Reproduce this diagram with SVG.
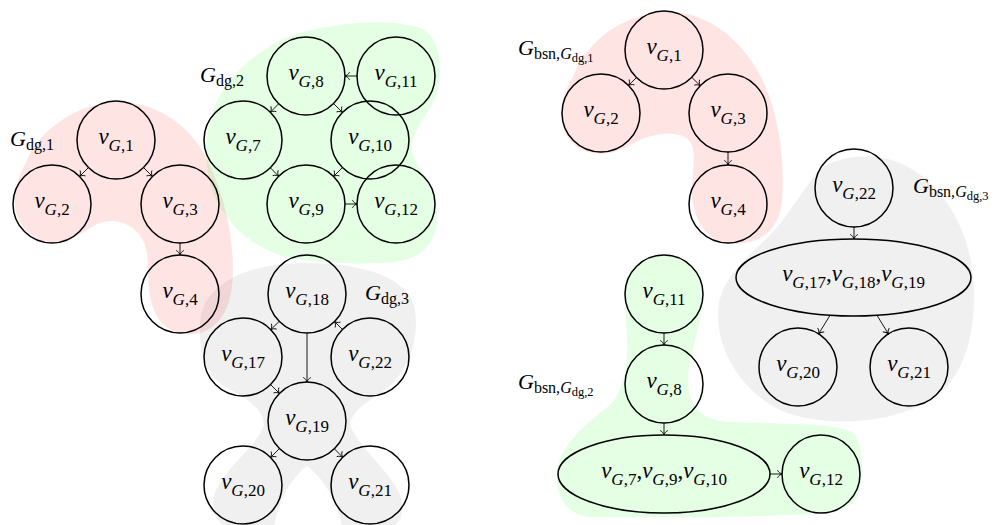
<svg xmlns="http://www.w3.org/2000/svg" width="996" height="525" viewBox="0 0 996 525">
<style>
text{font-family:"Liberation Serif","Times New Roman",serif;font-size:23px;fill:#000}
.n{text-anchor:middle}
.it{font-style:italic}
.s{font-size:17px}
.ss{font-size:12.5px}
.gl{font-size:22px}
.gs{font-size:16px}
circle,ellipse{fill:none;stroke:#000;stroke-width:1.5}
.e line{stroke:#000;stroke-width:0.9;marker-end:url(#ar)}
.pk{fill:#ff0000;fill-opacity:.105}
.gr{fill:#00ff00;fill-opacity:.105}
.gy{fill:#000;fill-opacity:.058}
</style>
<defs>
<marker id="ar" viewBox="-6 -5 7 10" markerWidth="7" markerHeight="10" refX="0" refY="0" orient="auto" markerUnits="userSpaceOnUse">
<path d="M-4.5,-3.8 C-3.5,-1.5 -1,-0.3 0,0 C-1,0.3 -3.5,1.5 -4.5,3.8" fill="none" stroke="#000" stroke-width="0.9"/>
</marker>
</defs>

<g id="blobs">
<path class="pk" d="M27,160 C40,130 75,105 113,102 C160,100 195,130 210,165 C225,200 233,235 233,270 C233,300 225,325 200,333 C180,338 160,330 152,305 C146,285 150,260 145,245 C138,225 115,215 95,225 C80,235 65,243 50,242 C25,240 12,215 15,195 C17,180 22,170 27,160 Z"/>
<path class="gr" d="M210,120 C220,80 260,45 300,33 C340,22 390,18 420,28 C440,36 443,65 438,90 C433,110 415,125 412,145 C410,165 435,180 437,210 C439,240 425,258 395,262 C360,265 320,263 290,258 C255,250 225,225 212,190 C204,165 205,140 210,120 Z"/>
<path class="gy" d="M200,322 C203,285 245,263 305,263 C365,263 410,278 415,310 C420,345 405,375 385,390 C368,402 352,410 350,425 C360,450 390,470 400,495 C406,512 400,525 392,525 L342,525 C336,500 325,480 307,466 C289,480 280,500 274,525 L224,525 C214,520 210,505 216,490 C228,465 258,445 264,425 C262,405 240,395 222,385 C205,372 198,350 200,322 Z"/>
<path class="pk" d="M573,77 C585,45 615,18 660,12 C705,8 745,40 765,85 C780,120 785,165 782,200 C780,230 760,245 730,244 C705,242 690,215 692,185 C694,158 698,140 680,135 C655,130 640,140 620,150 C595,160 565,150 562,120 C561,100 566,88 573,77 Z"/>
<path class="gy" d="M820,170 C835,155 875,152 900,163 C940,180 968,225 973,275 C978,330 965,380 930,400 C890,425 820,428 780,410 C740,390 718,350 718,315 C718,280 745,260 770,235 C790,215 805,185 820,170 Z"/>
<path class="gr" d="M625,300 C622,270 640,255 664,255 C690,255 705,275 702,305 C700,330 690,350 688,380 C688,405 700,420 730,422 C780,424 830,422 852,432 C865,442 863,480 858,495 C852,510 830,514 790,515 C720,518 640,518 590,517 C565,515 555,495 557,470 C560,445 590,420 610,405 C625,390 628,360 627,340 C626,325 626,310 625,300 Z"/>
</g>

<g id="labels">
<text x="10" y="146" class="gl"><tspan class="it">G</tspan><tspan dy="3.5" class="gs">dg,1</tspan></text>
<text x="200" y="82" class="gl"><tspan class="it">G</tspan><tspan dy="3.5" class="gs">dg,2</tspan></text>
<text x="365" y="300" class="gl"><tspan class="it">G</tspan><tspan dy="3.5" class="gs">dg,3</tspan></text>
<text x="518" y="55" class="gl"><tspan class="it">G</tspan><tspan dy="3.5" class="gs">bsn,<tspan class="it">G</tspan><tspan dy="3" class="ss">dg,1</tspan></tspan></text>
<text x="518" y="389" class="gl"><tspan class="it">G</tspan><tspan dy="3.5" class="gs">bsn,<tspan class="it">G</tspan><tspan dy="3" class="ss">dg,2</tspan></tspan></text>
<text x="913" y="193" class="gl"><tspan class="it">G</tspan><tspan dy="3.5" class="gs">bsn,<tspan class="it">G</tspan><tspan dy="3" class="ss">dg,3</tspan></tspan></text>
</g>

<g id="L1"><circle cx="116" cy="140" r="39"/><text class="n" x="116" y="143.5"><tspan class="it">v</tspan><tspan dy="7" class="s"><tspan class="it">G</tspan>,1</tspan></text></g>
<g id="L2"><circle cx="52" cy="204" r="39"/><text class="n" x="52" y="207.5"><tspan class="it">v</tspan><tspan dy="7" class="s"><tspan class="it">G</tspan>,2</tspan></text></g>
<g id="L3"><circle cx="180" cy="204" r="39"/><text class="n" x="180" y="207.5"><tspan class="it">v</tspan><tspan dy="7" class="s"><tspan class="it">G</tspan>,3</tspan></text></g>
<g id="L4"><circle cx="180" cy="294" r="39"/><text class="n" x="180" y="297.5"><tspan class="it">v</tspan><tspan dy="7" class="s"><tspan class="it">G</tspan>,4</tspan></text></g>

<g id="L8"><circle cx="306" cy="76" r="39"/><text class="n" x="306" y="79.5"><tspan class="it">v</tspan><tspan dy="7" class="s"><tspan class="it">G</tspan>,8</tspan></text></g>
<g id="L11"><circle cx="396" cy="76" r="39"/><text class="n" x="396" y="79.5"><tspan class="it">v</tspan><tspan dy="7" class="s"><tspan class="it">G</tspan>,11</tspan></text></g>
<g id="L7"><circle cx="243" cy="140" r="39"/><text class="n" x="243" y="143.5"><tspan class="it">v</tspan><tspan dy="7" class="s"><tspan class="it">G</tspan>,7</tspan></text></g>
<g id="L10"><circle cx="370" cy="140" r="39"/><text class="n" x="370" y="143.5"><tspan class="it">v</tspan><tspan dy="7" class="s"><tspan class="it">G</tspan>,10</tspan></text></g>
<g id="L9"><circle cx="306" cy="204" r="39"/><text class="n" x="306" y="207.5"><tspan class="it">v</tspan><tspan dy="7" class="s"><tspan class="it">G</tspan>,9</tspan></text></g>
<g id="L12"><circle cx="396" cy="204" r="39"/><text class="n" x="396" y="207.5"><tspan class="it">v</tspan><tspan dy="7" class="s"><tspan class="it">G</tspan>,12</tspan></text></g>

<g id="L18"><circle cx="307" cy="294" r="39"/><text class="n" x="307" y="297.5"><tspan class="it">v</tspan><tspan dy="7" class="s"><tspan class="it">G</tspan>,18</tspan></text></g>
<g id="L17"><circle cx="243" cy="357" r="39"/><text class="n" x="243" y="360.5"><tspan class="it">v</tspan><tspan dy="7" class="s"><tspan class="it">G</tspan>,17</tspan></text></g>
<g id="L22"><circle cx="370" cy="357" r="39"/><text class="n" x="370" y="360.5"><tspan class="it">v</tspan><tspan dy="7" class="s"><tspan class="it">G</tspan>,22</tspan></text></g>
<g id="L19"><circle cx="307" cy="421" r="39"/><text class="n" x="307" y="424.5"><tspan class="it">v</tspan><tspan dy="7" class="s"><tspan class="it">G</tspan>,19</tspan></text></g>
<g id="L20"><circle cx="243" cy="485" r="39"/><text class="n" x="243" y="488.5"><tspan class="it">v</tspan><tspan dy="7" class="s"><tspan class="it">G</tspan>,20</tspan></text></g>
<g id="L21"><circle cx="370" cy="485" r="39"/><text class="n" x="370" y="488.5"><tspan class="it">v</tspan><tspan dy="7" class="s"><tspan class="it">G</tspan>,21</tspan></text></g>

<g id="R1"><circle cx="664" cy="50" r="39"/><text class="n" x="664" y="53.5"><tspan class="it">v</tspan><tspan dy="7" class="s"><tspan class="it">G</tspan>,1</tspan></text></g>
<g id="R2"><circle cx="601" cy="113" r="39"/><text class="n" x="601" y="116.5"><tspan class="it">v</tspan><tspan dy="7" class="s"><tspan class="it">G</tspan>,2</tspan></text></g>
<g id="R3"><circle cx="728" cy="113" r="39"/><text class="n" x="728" y="116.5"><tspan class="it">v</tspan><tspan dy="7" class="s"><tspan class="it">G</tspan>,3</tspan></text></g>
<g id="R4"><circle cx="728" cy="204" r="39"/><text class="n" x="728" y="207.5"><tspan class="it">v</tspan><tspan dy="7" class="s"><tspan class="it">G</tspan>,4</tspan></text></g>

<g id="R22"><circle cx="854" cy="188" r="39"/><text class="n" x="854" y="191.5"><tspan class="it">v</tspan><tspan dy="7" class="s"><tspan class="it">G</tspan>,22</tspan></text></g>
<g id="R171819"><ellipse cx="853.5" cy="277.5" rx="117.5" ry="38.5"/><text class="n" x="853.5" y="281"><tspan class="it">v</tspan><tspan dy="7" class="s"><tspan class="it">G</tspan>,17</tspan><tspan dy="-7">,</tspan><tspan class="it">v</tspan><tspan dy="7" class="s"><tspan class="it">G</tspan>,18</tspan><tspan dy="-7">,</tspan><tspan class="it">v</tspan><tspan dy="7" class="s"><tspan class="it">G</tspan>,19</tspan></text></g>
<g id="R20"><circle cx="798" cy="367" r="39"/><text class="n" x="798" y="370.5"><tspan class="it">v</tspan><tspan dy="7" class="s"><tspan class="it">G</tspan>,20</tspan></text></g>
<g id="R21"><circle cx="909" cy="367" r="39"/><text class="n" x="909" y="370.5"><tspan class="it">v</tspan><tspan dy="7" class="s"><tspan class="it">G</tspan>,21</tspan></text></g>

<g id="R11"><circle cx="664" cy="294" r="39"/><text class="n" x="664" y="297.5"><tspan class="it">v</tspan><tspan dy="7" class="s"><tspan class="it">G</tspan>,11</tspan></text></g>
<g id="R8"><circle cx="664" cy="384" r="39"/><text class="n" x="664" y="387.5"><tspan class="it">v</tspan><tspan dy="7" class="s"><tspan class="it">G</tspan>,8</tspan></text></g>
<g id="R7910"><ellipse cx="664" cy="474" rx="106" ry="39"/><text class="n" x="664" y="477.5"><tspan class="it">v</tspan><tspan dy="7" class="s"><tspan class="it">G</tspan>,7</tspan><tspan dy="-7">,</tspan><tspan class="it">v</tspan><tspan dy="7" class="s"><tspan class="it">G</tspan>,9</tspan><tspan dy="-7">,</tspan><tspan class="it">v</tspan><tspan dy="7" class="s"><tspan class="it">G</tspan>,10</tspan></text></g>
<g id="R12"><circle cx="821" cy="474" r="39"/><text class="n" x="821" y="477.5"><tspan class="it">v</tspan><tspan dy="7" class="s"><tspan class="it">G</tspan>,12</tspan></text></g>

<g id="edges" class="e">
<line x1="88.4" y1="167.6" x2="79.6" y2="176.4"/>
<line x1="143.6" y1="167.6" x2="152.4" y2="176.4"/>
<line x1="180" y1="243" x2="180" y2="255"/>
<line x1="357" y1="76" x2="345" y2="76"/>
<line x1="278.6" y1="103.8" x2="270.4" y2="112.2"/>
<line x1="333.6" y1="103.6" x2="342.4" y2="112.4"/>
<line x1="270.4" y1="167.8" x2="278.6" y2="176.2"/>
<line x1="342.4" y1="167.6" x2="333.6" y2="176.4"/>
<line x1="345" y1="204" x2="357" y2="204"/>
<line x1="279.2" y1="321.4" x2="270.8" y2="329.6"/>
<line x1="342.4" y1="329.4" x2="334.6" y2="321.6"/>
<line x1="307" y1="333" x2="307" y2="382"/>
<line x1="270.6" y1="384.6" x2="279.4" y2="393.4"/>
<line x1="279.4" y1="448.6" x2="270.6" y2="457.4"/>
<line x1="334.4" y1="448.8" x2="342.6" y2="457.2"/>
<line x1="636.4" y1="77.6" x2="628.6" y2="85.4"/>
<line x1="691.8" y1="77.4" x2="700.2" y2="85.6"/>
<line x1="728" y1="152" x2="728" y2="165"/>
<line x1="854" y1="227" x2="854" y2="239"/>
<line x1="830.1" y1="315.2" x2="818.6" y2="333.9"/>
<line x1="876.9" y1="315.2" x2="888.4" y2="333.9"/>
<line x1="664" y1="333" x2="664" y2="345"/>
<line x1="664" y1="423" x2="664" y2="435"/>
<line x1="770" y1="474" x2="782" y2="474"/>
</g>
</svg>
